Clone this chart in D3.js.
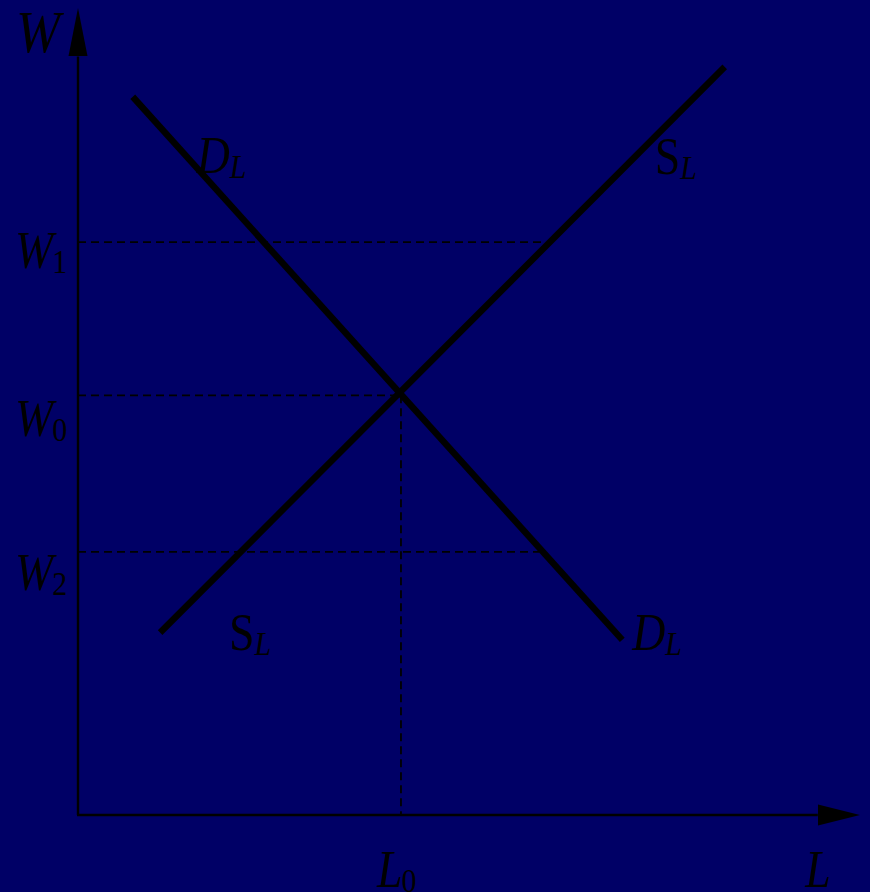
<!DOCTYPE html>
<html>
<head>
<meta charset="utf-8">
<script src="https://cdn.jsdelivr.net/npm/d3@7"></script>
<style>
  html, body { margin: 0; padding: 0; background: #000066; }
  svg { display: block; }
  text { font-family: "Liberation Serif", "Times New Roman", serif; fill: #000; }
</style>
</head>
<body>
<svg id="chart" width="870" height="892"></svg>
<script>
// curves, in chart units (L on x, W on y)
var demand = [[0.70, 8.90], [6.96, 2.17]];
var supply = [[1.05, 2.26], [8.27, 9.27]];
// wage levels and where each dashed guide stops
var wageNames = ["1", "0", "2"];
var wageLevels = [7.10, 5.20, 3.26];
var wageGuideEnd = [5.93, 4.13, 5.90];
var L0 = 4.13;

var svg = d3.select("#chart");
var x = d3.scaleLinear().domain([0, 10]).range([78, 860]);
var y = d3.scaleLinear().domain([0, 10]).range([815, 8]);

var line = d3.line().x(function(d) { return x(d[0]); }).y(function(d) { return y(d[1]); });

// axes with arrows
svg.append("line").attr("x1", x(0)).attr("y1", y(0)).attr("x2", x(0)).attr("y2", y(9.4))
    .attr("stroke", "#000").attr("stroke-width", 2.4);
svg.append("line").attr("x1", x(0) - 1).attr("y1", y(0)).attr("x2", x(9.46)).attr("y2", y(0))
    .attr("stroke", "#000").attr("stroke-width", 2.4);
svg.append("path")
    .attr("d", "M" + x(0) + "," + y(10) + " L" + (x(0) - 9.5) + "," + (y(10) + 48) + " L" + (x(0) + 9.5) + "," + (y(10) + 48) + "Z")
    .attr("fill", "#000");
svg.append("path")
    .attr("d", "M" + x(10) + "," + y(0) + " L" + (x(10) - 42) + "," + (y(0) - 10.5) + " L" + (x(10) - 42) + "," + (y(0) + 10.5) + "Z")
    .attr("fill", "#000");

// dashed guides
svg.selectAll("line.guide")
    .data(wageLevels)
    .enter().append("line")
    .attr("class", "guide")
    .attr("x1", x(0)).attr("x2", function(d, i) { return x(wageGuideEnd[i]); })
    .attr("y1", function(d) { return y(d); }).attr("y2", function(d) { return y(d); })
    .attr("stroke", "#000").attr("stroke-width", 1.8).attr("stroke-dasharray", "8,5");
svg.append("line")
    .attr("x1", x(L0)).attr("x2", x(L0)).attr("y1", y(wageLevels[1])).attr("y2", y(0))
    .attr("stroke", "#000").attr("stroke-width", 1.8).attr("stroke-dasharray", "8,5");

// demand and supply
svg.append("path").attr("d", line(demand)).attr("fill", "none").attr("stroke", "#000").attr("stroke-width", 6.5);
svg.append("path").attr("d", line(supply)).attr("fill", "none").attr("stroke", "#000").attr("stroke-width", 6.5);

// text is a bit narrow in the original, so squeeze horizontally
function label(px, py, main, sub, mainItalic, subItalic, size) {
    size = size || 52;
    var t = svg.append("text")
        .attr("transform", "translate(" + px + "," + py + ") scale(0.88,1)")
        .style("font-size", size + "px");
    t.append("tspan").text(main).style("font-style", mainItalic ? "italic" : "normal");
    if (sub) {
        t.append("tspan").text(sub).attr("dy", 5).attr("dx", subItalic ? 0 : -1)
            .style("font-size", "34px")
            .style("font-style", subItalic ? "italic" : "normal");
    }
}

// axis names
label(x(0) - 62, y(10) + 44, "W", "", true, false, 60);
label(x(9.3), y(0) + 72, "L", "", true, false);

// wage labels
var wageLabelDrop = [26, 41, 38];
wageLevels.forEach(function(w, i) {
    label(x(0) - 63, y(w) + wageLabelDrop[i], "W", wageNames[i], true, false);
});
label(x(L0) - 24, y(0) + 72, "L", "0", true, false);

// curve labels
label(x(demand[0][0]) + 64, y(demand[0][1]) + 76, "D", "L", true, true);
label(x(demand[1][0]) + 10, y(demand[1][1]) + 10, "D", "L", true, true);
label(x(supply[1][0]) - 70, y(supply[1][1]) + 107, "S", "L", false, true);
label(x(supply[0][0]) + 69, y(supply[0][1]) + 17, "S", "L", false, true);
</script>
</body>
</html>
